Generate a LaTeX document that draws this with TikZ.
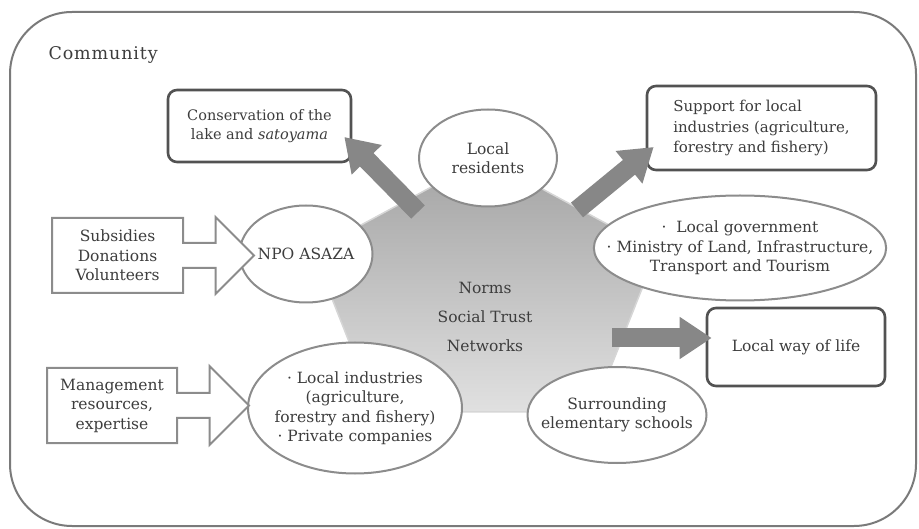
\documentclass[tikz,border=0pt]{standalone}
\usepackage{fontspec}
\setmainfont{DejaVu Serif}
\usetikzlibrary{shapes.geometric,shapes.arrows,arrows.meta}

\tikzstyle{every node}=[text=black!76, font=\fontsize{15.5}{19.5}\selectfont]
\tikzstyle{actor}=[ellipse, draw=black!45, line width=2pt, fill=white,
                   inner xsep=-30pt, inner ysep=0pt, align=center]
\tikzstyle{outcome}=[rectangle, rounded corners=9pt, draw=black!68,
                     line width=2.6pt, fill=white, inner sep=0pt]
\tikzstyle{input}=[arrow box, draw=black!45, line width=2pt, fill=white,
                   inner sep=0pt, align=center, arrow box shaft width=25pt,
                   arrow box tip angle=90]
\tikzstyle{fat}=[line width=19pt, draw=black!47,
                 -{Triangle[width=40pt,length=32pt]}]

\begin{document}
\begin{tikzpicture}[x=1pt, y=-1pt]
  \useasboundingbox (0,0) rectangle (919,529);
  \draw[black!52, line width=2pt, rounded corners=62pt] (10,12) rectangle (916,526);
  \node[anchor=west, font=\fontsize{17.5}{20}\selectfont\addfontfeature{LetterSpace=5}]
    (community) at (45,55) {Community};

  \shade[top color=black!36, bottom color=black!12, draw=black!16, line width=1.5pt]
    (485,158) -- (657,251) -- (593,412) -- (377,412) -- (313,251) -- cycle;
  \node[align=center, font=\fontsize{15.5}{29}\selectfont] (core) at (485,317)
    {Norms\\Social Trust\\Networks};

  \node[actor, minimum width=138, minimum height=97] (res) at (488,158)
    {Local\\residents};
  \node[actor, minimum width=133, minimum height=97] (npo) at (306,254) {NPO ASAZA};
  \node[actor, minimum width=290, minimum height=105] (gov) at (740,248)
    {·~~Local government\\·~Ministry of Land, Infrastructure,\\Transport and Tourism};
  \node[actor, minimum width=214, minimum height=131] (ind) at (355,408)
    {·~Local industries\\(agriculture,\\forestry and fishery)\\·~Private companies};
  \node[actor, minimum width=179, minimum height=96] (school) at (617,415)
    {Surrounding\\elementary schools};

  \node[input, minimum width=131, minimum height=75, arrow box head extend=26pt,
        arrow box arrows={east:70pt}] (subs) at (117.5,255.5)
    {Subsidies\\Donations\\Volunteers};
  \node[input, minimum width=130, minimum height=75, arrow box head extend=27pt,
        arrow box arrows={east:71pt}] (mgmt) at (112,405.5)
    {Management\\resources,\\expertise};

  \node[outcome, align=center, minimum width=183, minimum height=72,
        font=\fontsize{14.5}{19.5}\selectfont] (cons) at (259.5,126)
    {Conservation of the\\lake and \textit{satoyama}};
  \node[outcome, align=left, minimum width=229, minimum height=84,
        font=\fontsize{15}{20.5}\selectfont] (supp) at (761.5,128)
    {Support for local\\industries (agriculture,\\forestry and fishery)};
  \node[outcome, minimum width=178, minimum height=78] (life) at (796,347)
    {Local way of life};

  \coordinate (t1) at (418,212);
  \coordinate (t2) at (577,210);
  \coordinate (t3) at (612,338);
  \draw[fat] (t1) -- ([xshift=-8pt,yshift=-11pt]cons.east);
  \draw[fat] (t2) -- ([xshift=8pt,yshift=-19pt]supp.west);
  \draw[fat] (t3) -- ([xshift=6pt,yshift=9pt]life.west);
\end{tikzpicture}
\end{document}
